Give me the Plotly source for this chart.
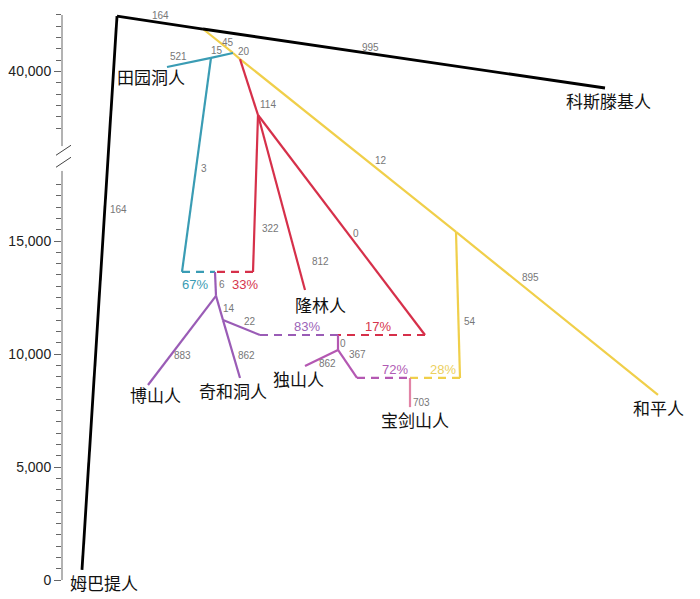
import plotly.graph_objects as go

# ---------------- data ----------------
# axis break: values above LOWER_MAX are shifted down by OFFSET on the drawn axis
LOWER_MAX = 17500
OFFSET = 17500

node_names = ["root", "mbuti", "kostenki", "y0", "n1", "n2", "t1", "tianyuan", "tb",
              "r114", "rb", "longlin", "rr", "y54", "y54b", "hoabinh", "a1", "p0",
              "boshan", "p14", "qihe", "p22", "a2", "p0b", "dushan", "p367", "a3", "baojian"]
node_x = [117, 82, 605, 203, 233, 240, 211, 167, 182,
          258, 253, 305, 425, 456, 460, 658, 215, 216,
          148, 223, 240, 260, 338, 338, 305, 357, 410, 410]
node_year = [42450, 450, 39270, 41880, 40820, 40550, 40600, 40200, 13630,
             38075, 13630, 12830, 10840, 15400, 8940, 8190, 13630, 12570,
             8630, 11500, 8940, 10840, 10840, 10180, 9470, 8940, 8940, 7650]

black_edges = [("root", "mbuti"), ("root", "y0"), ("y0", "kostenki")]
yellow_edges = [("y0", "n1"), ("n1", "n2"), ("n2", "y54"), ("y54", "hoabinh"), ("y54", "y54b")]
yellow_dashed = [("y54b", "a3")]
teal_edges = [("n1", "t1"), ("t1", "tianyuan"), ("t1", "tb")]
teal_dashed = [("tb", "a1")]
red_edges = [("n2", "r114"), ("r114", "rb"), ("r114", "longlin"), ("r114", "rr")]
red_dashed = [("rb", "a1"), ("rr", "a2")]
purple_edges = [("a1", "p0"), ("p0", "boshan"), ("p0", "p14"), ("p14", "qihe"), ("p14", "p22")]
purple_dashed = [("p22", "a2")]
magenta_edges = [("a2", "p0b"), ("p0b", "dushan"), ("p0b", "p367")]
magenta_dashed = [("p367", "a3")]
pink_edges = [("a3", "baojian")]

leaf_names = ["田园洞人", "科斯滕基人", "隆林人", "博山人", "奇和洞人", "独山人", "宝剑山人", "和平人", "姆巴提人"]

branch_text = ["164", "164", "995", "45", "15", "20", "521", "3", "114", "322", "812", "0",
               "12", "895", "54", "6", "14", "883", "862", "22", "0", "862", "367", "703"]
mix_text = ["67%", "33%", "83%", "17%", "72%", "28%"]

tick_years = [0, 5000, 10000, 15000, 40000]
tick_text = ["0", "5,000", "10,000", "15,000", "40,000"]

# ---------------- layout positions (axis coordinates) ----------------
leaf_pos_x = [151, 608, 320, 155, 233, 298, 415, 658, 104]
leaf_pos_t = [22257, 21239, 12170, 8230, 8407, 8900, 7124, 7655, -90]

branch_pos_x = [160, 118, 370, 228, 217, 244, 178, 204, 268, 270, 320, 356,
                381, 530, 470, 222, 229, 182, 246, 250, 343, 327, 357, 421]
branch_pos_t = [24960, 16372, 23540, 23805, 23451, 23407, 23142, 18230, 21062, 15575, 14115, 15354,
                18584, 13407, 11460, 13097, 12035, 9912, 9912, 11460, 10443, 9560, 10000, 7876]

mix_pos_x = [195, 245, 307, 378, 395, 443]
mix_pos_t = [13097, 13097, 11230, 11230, 9335, 9335]
mix_colors = ["#3a9cb4", "#d6344c", "#9c64b8", "#d6344c", "#b05cb4", "#ecd060"]


def to_axis(v):
    return v if v <= LOWER_MAX else v - OFFSET


idx = {n: i for i, n in enumerate(node_names)}


def edge_xy(edges):
    xs, ys = [], []
    for a, b in edges:
        xs += [node_x[idx[a]], node_x[idx[b]], None]
        ys += [to_axis(node_year[idx[a]]), to_axis(node_year[idx[b]]), None]
    return xs, ys


fig = go.Figure()

groups = [
    (yellow_edges, "#f0cf4a", 2.2, "solid"),
    (yellow_dashed, "#f0cf4a", 2.2, "8px,6px"),
    (teal_edges, "#3a9cb4", 2.2, "solid"),
    (teal_dashed, "#3a9cb4", 2.2, "8px,6px"),
    (red_edges, "#d6304a", 2.2, "solid"),
    (red_dashed, "#d6304a", 2.2, "8px,6px"),
    (purple_edges, "#9a5cb6", 2.2, "solid"),
    (purple_dashed, "#9a5cb6", 2.2, "8px,6px"),
    (magenta_edges, "#b458b2", 2.2, "solid"),
    (magenta_dashed, "#b458b2", 2.2, "8px,6px"),
    (pink_edges, "#e284a6", 2.2, "solid"),
    (black_edges, "#000000", 2.8, "solid"),
]
for edges, color, w, dash in groups:
    xs, ys = edge_xy(edges)
    fig.add_trace(go.Scatter(x=xs, y=ys, mode="lines",
                             line=dict(color=color, width=w, dash=dash),
                             hoverinfo="skip", showlegend=False))

annotations = []
for txt, x, t in zip(branch_text, branch_pos_x, branch_pos_t):
    annotations.append(dict(x=x, y=t, xref="x", yref="y", text=txt, showarrow=False,
                            font=dict(family="Arial", size=10, color="#777")))
for txt, x, t, c in zip(mix_text, mix_pos_x, mix_pos_t, mix_colors):
    annotations.append(dict(x=x, y=t, xref="x", yref="y", text=txt, showarrow=False,
                            font=dict(family="Arial", size=13, color=c)))
for name, x, t in zip(leaf_names, leaf_pos_x, leaf_pos_t):
    annotations.append(dict(x=x, y=t, xref="x", yref="y", text=name, showarrow=False,
                            font=dict(family="Noto Sans CJK SC", size=17, color="#111")))

# axis line with break
upper_min = to_axis(37500)
upper_max = to_axis(42500)
shapes = [
    dict(type="line", xref="paper", yref="y", x0=0, x1=0, y0=0, y1=LOWER_MAX + 600,
         line=dict(color="#666", width=1)),
    dict(type="line", xref="paper", yref="y", x0=0, x1=0, y0=upper_min - 800, y1=upper_max,
         line=dict(color="#666", width=1)),
]
brk_mid = (LOWER_MAX + upper_min) / 2
for off in (-6, 6):
    shapes.append(dict(type="line", xref="paper", xsizemode="pixel", xanchor=0,
                       x0=-6, x1=9, yref="y", ysizemode="pixel", yanchor=brk_mid,
                       y0=off - 5, y1=off + 5, line=dict(color="#444", width=1)))

minor_vals = [v for v in range(0, LOWER_MAX + 1, 500)] + \
             [to_axis(v) for v in range(37500, 42501, 500)]

# page body has an 8px margin, so the figure is sized/placed to compensate
fig.update_layout(
    width=692, height=591,
    margin=dict(l=54, r=0, t=2, b=9),
    plot_bgcolor="white", paper_bgcolor="white",
    showlegend=False,
    annotations=annotations,
    shapes=shapes,
    xaxis=dict(range=[62, 700], visible=False, fixedrange=True),
    yaxis=dict(range=[-442, 25221], showgrid=False, zeroline=False, showline=False,
               tickmode="array", tickvals=[to_axis(v) for v in tick_years], ticktext=tick_text,
               ticks="outside", ticklen=7, tickcolor="#666", tickwidth=1,
               tickfont=dict(family="Arial", size=14, color="#222"),
               minor=dict(tickmode="array", tickvals=minor_vals, ticks="outside",
                          ticklen=5, tickcolor="#666", tickwidth=1, showgrid=False)),
)

fig.write_html("out.html")
